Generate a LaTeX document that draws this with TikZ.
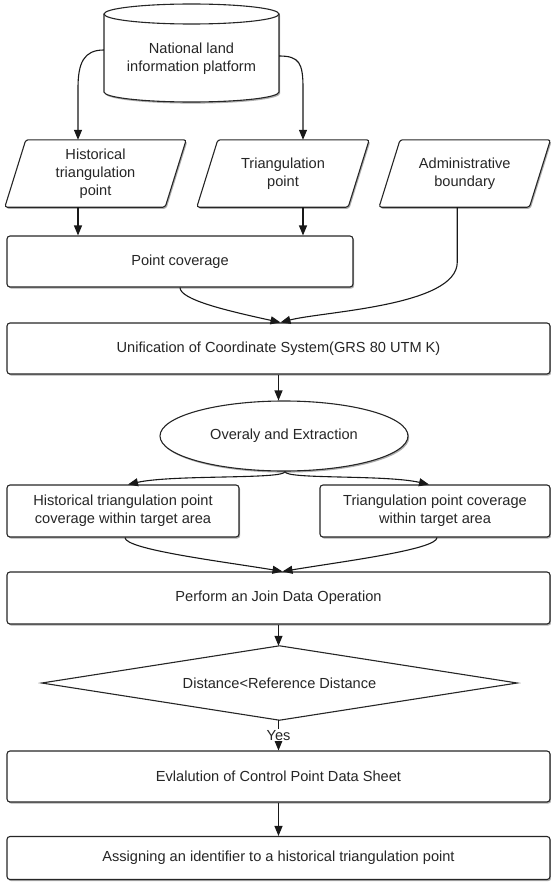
\documentclass[tikz,border=0pt]{standalone}
\usepackage{fontspec}
\setmainfont{Liberation Sans}
\usetikzlibrary{arrows.meta,shapes.geometric,shadows,backgrounds,calc}
\begin{document}
\begin{tikzpicture}[x=1pt,y=1pt,
  arr/.style={line width=1.1pt, draw=black!90, -{Triangle[length=10pt,width=8pt]}},
  shad/.style={drop shadow={shadow xshift=1.2pt, shadow yshift=-1.6pt, opacity=0.45, fill=black!70}},
  txt/.style={font=\fontsize{14.6}{18}\selectfont, text=black!85, align=center},
  box/.style={txt, rectangle, rounded corners=3pt, draw=black!85, line width=1.1pt, fill=white, shad, inner sep=0pt},
  ptxt/.style={txt, inner sep=0pt, minimum height=67pt},
  paraw/.style={line width=1.1pt, draw=black!85, fill=white, rounded corners=2.5pt, shad},
  cylw/.style={line width=1.1pt, draw=black!85, fill=white, shad},
  diaw/.style={line width=1.1pt, draw=black!85, fill=white},
]
\useasboundingbox (0,0) rectangle (551,-883);

% cylinder
\path[cylw] (104,-14) -- (104,-92) arc[start angle=180, end angle=360, x radius=87.5, y radius=10]
   -- (279,-14) arc[start angle=0, end angle=180, x radius=87.5, y radius=10] -- cycle;
\draw[line width=1.1pt, draw=black!85] (104,-14) arc[start angle=180, end angle=360, x radius=87.5, y radius=10];
\node[txt, minimum width=175, minimum height=60, inner sep=0] (cyl) at (191.5,-59) {National land\\information platform};

% parallelogram texts
\node[ptxt, minimum width=160] (hist) at (95.5,-173.5) {Historical\\triangulation\\point};
\node[ptxt, minimum width=151] (tri) at (283,-173.5) {Triangulation\\point};
\node[ptxt, minimum width=150] (adm) at (464.75,-173.5) {Administrative\\boundary};

% boxes
\node[box, minimum width=346, minimum height=51] (pc) at (180,-261.5) {Point coverage};
\node[box, minimum width=543, minimum height=51] (uni) at (278.5,-348.5) {Unification of Coordinate System(GRS 80 UTM K)};
\node[txt, ellipse, draw=black!85, line width=1.1pt, fill=white, shad, minimum width=248, minimum height=70, inner sep=0] (ell) at (284,-436) {Overaly and Extraction};
\node[box, minimum width=232, minimum height=52] (lb) at (123,-511) {Historical triangulation point\\coverage within target area};
\node[box, minimum width=230, minimum height=52] (rb) at (435,-511) {Triangulation point coverage\\within target area};
\node[box, minimum width=543, minimum height=52] (perf) at (278.5,-598) {Perform an Join Data Operation};
\node[txt, rectangle, minimum width=475, minimum height=74, inner sep=0] (dia) at (279.5,-683) {\raisebox{-4pt}{Distance<Reference Distance}};
\node[box, minimum width=543, minimum height=51] (evl) at (278.5,-776.5) {Evlalution of Control Point Data Sheet};
\node[box, minimum width=543, minimum height=43] (asg) at (278.5,-858) {Assigning an identifier to a historical triangulation point};

\begin{scope}[on background layer]
\foreach \n in {hist,tri,adm}
  \draw[paraw] ($(\n.south west)+(-10.5,0)$) -- ($(\n.north west)+(10.5,0)$)
     -- ($(\n.north east)+(10.5,0)$) -- ($(\n.south east)+(-10.5,0)$) -- cycle;
\draw[diaw] (dia.north) -- (dia.east) -- (dia.south) -- (dia.west) -- cycle;
\end{scope}

% connectors
\coordinate (hA) at ([xshift=-17.5]hist.north);
\coordinate (tA) at ([xshift=20]tri.north);
\coordinate (aA) at ([xshift=-7.5]adm.south);
\draw[arr] ([yshift=9]cyl.west) .. controls +(-20,0) and +(0,25) .. (hA |- 0,-88) -- (hA);
\draw[arr] ([yshift=3]cyl.east) .. controls +(20,0) and +(0,25) .. (tA |- 0,-88) -- (tA);
\draw[arr] (hA |- hist.south) -- (hA |- pc.north);
\draw[arr] (tA |- tri.south) -- (tA |- pc.north);
\draw[arr] (aA) -- ++(0,-55) .. controls +(0,-44) and +(42,11) .. ([xshift=2]uni.north);
\draw[arr] (pc.south) .. controls +(0,-12) and +(-55,12) .. ([xshift=2]uni.north);
\draw[arr] (uni.south) -- (uni.south |- ell.north);
\draw[arr] ([xshift=1]ell.south) .. controls +(0,-8) and +(45,10) .. ([xshift=5]lb.north);
\draw[arr] ([xshift=1]ell.south) .. controls +(0,-8) and +(-45,10) .. ([xshift=-6]rb.north);
\draw[arr] ([xshift=2]lb.south) .. controls +(0,-12) and +(-60,10) .. ([xshift=4]perf.north);
\draw[arr] ([xshift=2]rb.south) .. controls +(0,-12) and +(60,10) .. ([xshift=4]perf.north);
\draw[arr] (perf.south) -- ([xshift=-1]dia.north);
\draw[arr] ([xshift=-1]dia.south) -- node[txt, fill=white, inner sep=1pt] {Yes} ([xshift=-1]dia.south |- evl.north);
\draw[arr] (evl.south) -- (asg.north);
\end{tikzpicture}
\end{document}
